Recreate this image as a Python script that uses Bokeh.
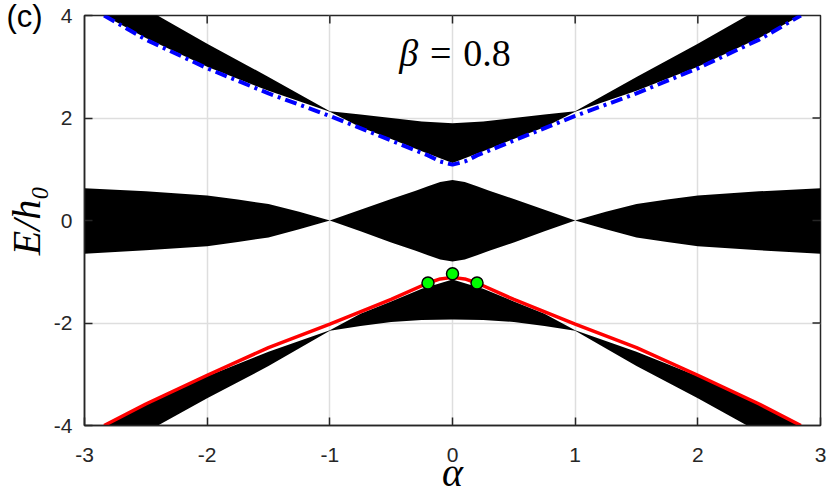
import math
from bokeh.plotting import figure
from bokeh.models import FixedTicker, Label
from bokeh.embed import file_html
from bokeh.resources import INLINE

# ---------------- data ----------------
X_TICKS = [-3, -2, -1, 0, 1, 2, 3]
X_TICK_LABELS = ["-3", "-2", "-1", "0", "1", "2", "3"]
Y_TICKS = [-4, -2, 0, 2, 4]
Y_TICK_LABELS = ["-4", "-2", "0", "2", "4"]
X_MIN, X_MAX = -3, 3
Y_MIN, Y_MAX = -4, 4

# upper band (edges)
UB_X = [-3.0, -2.84, -2.5, -2.0, -1.5, -1.0, -0.75, -0.5, -0.25, 0.0, 0.25, 0.5, 0.75, 1.0, 1.5, 2.0, 2.5, 2.84, 3.0]
UB_TOP = [4.85, 4.60, 4.13, 3.45, 2.80, 2.13, 2.07, 2.00, 1.93, 1.90, 1.93, 2.00, 2.07, 2.13, 2.80, 3.45, 4.13, 4.60, 4.85]
UB_BOT = [4.22, 4.00, 3.56, 3.00, 2.53, 2.12, 1.82, 1.59, 1.35, 1.12, 1.35, 1.59, 1.82, 2.12, 2.53, 3.00, 3.56, 4.00, 4.22]

# middle band (edges)
MB_X = [-3.0, -2.5, -2.0, -1.75, -1.5, -1.25, -1.0, -0.75, -0.5, -0.3, -0.2, -0.1, 0.0,
        0.1, 0.2, 0.3, 0.5, 0.75, 1.0, 1.25, 1.5, 1.75, 2.0, 2.5, 3.0]
MB_TOP = [0.63, 0.57, 0.49, 0.41, 0.32, 0.17, 0.0, 0.21, 0.42, 0.58, 0.67, 0.75, 0.79,
          0.75, 0.67, 0.58, 0.42, 0.21, 0.0, 0.17, 0.32, 0.41, 0.49, 0.57, 0.63]
MB_BOT = [-0.65, -0.58, -0.50, -0.42, -0.33, -0.17, 0.0, -0.21, -0.43, -0.59, -0.68, -0.76, -0.80,
          -0.76, -0.68, -0.59, -0.43, -0.21, 0.0, -0.17, -0.33, -0.42, -0.50, -0.58, -0.65]

# lower band (edges)
LB_X = [-3.0, -2.84, -2.5, -2.0, -1.5, -1.0, -0.75, -0.5, -0.25, 0.0, 0.25, 0.5, 0.75, 1.0, 1.5, 2.0, 2.5, 2.84, 3.0]
LB_TOP = [-4.22, -4.02, -3.60, -3.04, -2.56, -2.14, -1.82, -1.58, -1.33, -1.15, -1.33, -1.58, -1.82, -2.14, -2.56, -3.04, -3.60, -4.02, -4.22]
LB_BOT = [-4.85, -4.60, -4.13, -3.47, -2.84, -2.15, -2.06, -1.98, -1.94, -1.93, -1.94, -1.98, -2.06, -2.15, -2.84, -3.47, -4.13, -4.60, -4.85]

# blue dash-dot curve
BLUE_X = [-2.84, -2.5, -2.0, -1.5, -1.0, -0.5, -0.2, -0.1, 0.0, 0.1, 0.2, 0.5, 1.0, 1.5, 2.0, 2.5, 2.84]
BLUE_Y = [4.00, 3.53, 2.97, 2.48, 2.04, 1.56, 1.27, 1.15, 1.09, 1.15, 1.27, 1.56, 2.04, 2.48, 2.97, 3.53, 4.00]

# red curve
RED_X = [-2.84, -2.5, -2.0, -1.5, -1.0, -0.5, -0.2, -0.1, 0.0, 0.1, 0.2, 0.5, 1.0, 1.5, 2.0, 2.5, 2.84]
RED_Y = [-4.00, -3.58, -3.02, -2.48, -2.02, -1.54, -1.22, -1.14, -1.11, -1.14, -1.22, -1.54, -2.02, -2.48, -3.02, -3.58, -4.00]

# green points
GREEN_X = [-0.2, 0.0, 0.2]
GREEN_Y = [-1.22, -1.04, -1.22]

# ---------------- figure ----------------
AX = "#262626"
p = figure(width=828, height=498, x_range=(X_MIN, X_MAX), y_range=(Y_MIN, Y_MAX),
           output_backend="svg", toolbar_location=None,
           min_border_left=84, min_border_right=8, min_border_top=15, min_border_bottom=73)
p.background_fill_color = "white"
p.border_fill_color = "white"
p.outline_line_color = AX
p.outline_line_width = 1.5

# panel tag "(c)" as the title, pulled into the top-left corner
p.title.text = "(c)"
p.title.align = "left"
p.title.offset = -78
p.title.standoff = -36
p.title.text_font = "Liberation Sans"
p.title.text_font_style = "normal"
p.title.text_font_size = "31px"
p.title.text_color = "black"

for ax in (p.xaxis[0], p.yaxis[0]):
    ax.axis_line_color = AX
    ax.axis_line_width = 1.5
    ax.major_tick_line_color = AX
    ax.major_tick_line_width = 1.5
    ax.major_tick_in = 8
    ax.major_tick_out = 0
    ax.minor_tick_line_color = None
    ax.major_label_text_font = "Liberation Sans"
    ax.major_label_text_font_size = "21px"
    ax.major_label_text_color = AX
    ax.axis_label_text_font = "Liberation Serif"
    ax.axis_label_text_font_style = "italic"
    ax.axis_label_text_color = "black"
    ax.axis_label_text_font_size = "40px"

p.xaxis.ticker = FixedTicker(ticks=X_TICKS)
p.yaxis.ticker = FixedTicker(ticks=Y_TICKS)
p.xaxis.major_label_overrides = dict(zip(X_TICKS, X_TICK_LABELS))
p.yaxis.major_label_overrides = dict(zip(Y_TICKS, Y_TICK_LABELS))
p.xaxis.major_label_standoff = 22
p.yaxis.major_label_standoff = 12
p.xaxis.axis_label = "α"
p.yaxis.axis_label = "E/h₀"
p.xaxis.axis_label_standoff = -15
p.yaxis.axis_label_standoff = 2

p.xgrid.ticker = FixedTicker(ticks=X_TICKS)
p.ygrid.ticker = FixedTicker(ticks=Y_TICKS)
p.grid.grid_line_color = "#dedede"
p.grid.grid_line_width = 1.5

# bands
p.varea(x=UB_X, y1=UB_BOT, y2=UB_TOP, fill_color="black")
p.varea(x=MB_X, y1=MB_BOT, y2=MB_TOP, fill_color="black")
p.varea(x=LB_X, y1=LB_BOT, y2=LB_TOP, fill_color="black")

# curves
p.line(BLUE_X, BLUE_Y, line_color="#0000ff", line_width=4, line_dash="12 5 3 5")
p.line(RED_X, RED_Y, line_color="#ff0000", line_width=3.5)
p.scatter(GREEN_X, GREEN_Y, size=12, fill_color="#00ff00", line_color="black", line_width=1.5)

# box ticks on the top and right edges (inward), half of each dash is clipped by the frame
p.scatter(X_TICKS[1:-1], [Y_MAX] * (len(X_TICKS) - 2), marker="dash", size=16,
          angle=math.pi / 2, line_color=AX, line_width=1.5)
p.scatter([X_MAX] * (len(Y_TICKS) - 2), Y_TICKS[1:-1], marker="dash", size=16,
          line_color=AX, line_width=1.5)

# in-plot annotation  "β = 0.8"
LBL_Y = 3.26
p.add_layout(Label(x=-0.280, y=LBL_Y, text="β", text_font="Liberation Serif",
                   text_font_style="italic", text_font_size="38px", text_color="black",
                   text_align="right", text_baseline="alphabetic"))
p.add_layout(Label(x=-0.096, y=LBL_Y, text="=", text_font="Liberation Serif",
                   text_font_size="38px", text_color="black",
                   text_align="center", text_baseline="alphabetic"))
p.add_layout(Label(x=0.087, y=LBL_Y, text="0.8", text_font="Liberation Serif",
                   text_font_size="38px", text_color="black",
                   text_align="left", text_baseline="alphabetic"))

open("out.html", "w").write(file_html(p, INLINE))
